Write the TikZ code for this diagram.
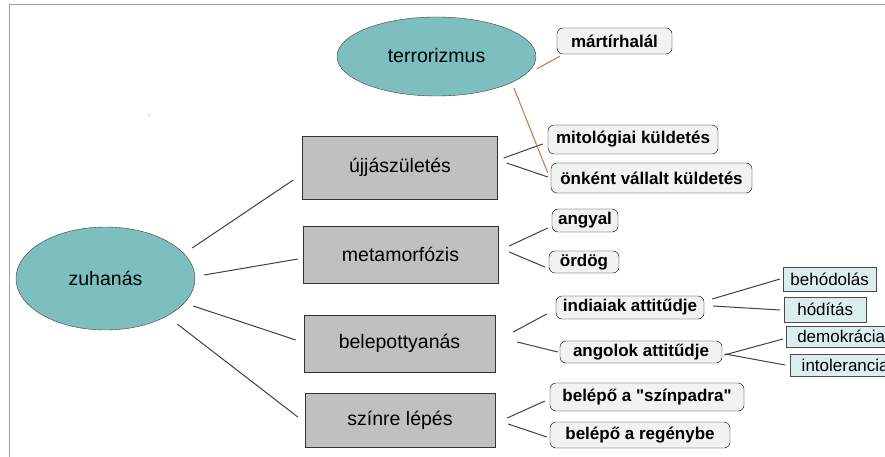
\documentclass[tikz,border=0pt]{standalone}
\usepackage{fontspec}
\setmainfont{Liberation Sans}[Ligatures=TeXOff]
\usetikzlibrary{shapes.geometric}
\definecolor{tealfill}{RGB}{125,190,190}
\definecolor{boxgray}{RGB}{192,192,192}
\definecolor{leafgray}{RGB}{242,242,242}
\definecolor{twigfill}{RGB}{220,237,237}
\definecolor{rustline}{RGB}{190,120,70}
\definecolor{framegray}{RGB}{160,160,160}
\newcommand{\bigfont}{\fontsize{19.5}{22}\selectfont}
\newcommand{\leaffont}{\fontsize{17}{20}\selectfont}

\begin{document}
\begin{tikzpicture}[x=1pt,y=-1pt]
\tikzstyle{blob} = [ellipse, draw=black!75, fill=tealfill, inner sep=0pt, font=\bigfont]
\tikzstyle{topic} = [rectangle, draw=black!80, fill=boxgray, minimum width=195pt, font=\bigfont]
\tikzstyle{leaf} = [rectangle, rounded corners=6pt, draw=black, fill=leafgray, inner xsep=3pt, inner ysep=1pt, minimum height=23pt, font=\leaffont\bfseries]
\tikzstyle{twig} = [rectangle, draw=black!70, fill=twigfill, inner sep=1pt, anchor=west, font=\leaffont]
\tikzset{link/.style={draw=black!75, line width=1pt}, rust/.style={draw=rustline, line width=1pt}}
\useasboundingbox (0,0) rectangle (885,457);

% frame of the slide
\draw[framegray, line width=1.5pt] (9.5,457) -- (9.5,4.5) -- (885,4.5);
\fill[black!60] (149,115) circle (0.7);

% main nodes
\node[blob, minimum width=179pt, minimum height=103pt] (zuh) at (105.5,278.5) {zuhanás};
\node[blob, minimum width=199pt, minimum height=79pt] (terror) at (436.5,56.5) {\raisebox{3pt}{terrorizmus}};

\node[topic, minimum height=63pt] (uj) at (400,167.5) {újjászületés};
\node[topic, minimum height=57pt] (meta) at (400.5,254.5) {metamorfózis};
\node[topic, minimum width=191pt, minimum height=57pt] (bele) at (399.5,343.5) {belepottyanás};
\node[topic, minimum width=190pt, minimum height=54pt] (szin) at (400,420) {színre lépés};

% rounded leaves
\node[leaf, minimum width=115pt, minimum height=26pt] (mart) at (614.5,41) {mártírhalál};
\node[leaf, minimum width=170pt, minimum height=29pt] (mit) at (633,139.5) {mitológiai küldetés};
\node[leaf, minimum width=201pt, minimum height=30pt] (onk) at (651.5,178) {önként vállalt küldetés};
\node[leaf, minimum width=66pt] (angyal) at (585,220.5) {angyal};
\node[leaf, minimum width=70pt, minimum height=22pt] (ordog) at (584,262) {ördög};
\node[leaf, minimum width=148pt] (ind) at (630,307.5) {indiaiak attitűdje};
\node[leaf, minimum width=162pt, minimum height=22pt] (ang) at (641,352) {angolok attitűdje};
\node[leaf, minimum width=194pt, minimum height=28pt] (bsz) at (647,397) {belépő a "színpadra"};
\node[leaf, minimum width=180pt, minimum height=26pt] (breg) at (640,435) {belépő a regénybe};

% boxes on the far right
\node[twig, minimum width=93pt, minimum height=24pt] (beh) at (783,279) {behódolás};
\node[twig, minimum width=82pt, minimum height=25pt] (hod) at (784,309.5) {hódítás};
\node[twig, minimum width=110pt, minimum height=21pt] (dem) at (786,336.5) {demokrácia};
\node[twig, minimum width=110pt, minimum height=22pt] (intol) at (790,365) {intolerancia};

% connectors
\draw[link] ([shift={(-3,-30.5)}]zuh.east) -- ([shift={(-9,12.5)}]uj.west);
\draw[link] ([shift={(9,-3.5)}]zuh.east) -- ([shift={(-5,4.5)}]meta.west);
\draw[link] ([shift={(-2,27.5)}]zuh.east) -- ([shift={(-8,-3.5)}]bele.west);
\draw[link] ([shift={(-18,45.5)}]zuh.east) -- ([shift={(-7,-3)}]szin.west);

\draw[link] ([shift={(6,-9.5)}]uj.east) -- ([shift={(-5,4.5)}]mit.west);
\draw[link] ([shift={(9,-4.5)}]uj.east) -- ([shift={(-3,-1)}]onk.west);
\draw[link] ([shift={(11,-8.5)}]meta.east) -- ([shift={(-4,7.5)}]angyal.west);
\draw[link] ([shift={(11,-2.5)}]meta.east) -- ([shift={(-4,5)}]ordog.west);
\draw[link] ([shift={(18,-11.5)}]bele.east) -- ([shift={(-9,6.5)}]ind.west);
\draw[link] ([shift={(22,-1.5)}]bele.east) -- ([shift={(-2,0)}]ang.west);
\draw[link] ([shift={(12,-2)}]szin.east) -- ([shift={(-5,4)}]bsz.west);
\draw[link] ([shift={(13,4)}]szin.east) -- ([shift={(-3,2)}]breg.west);

\draw[link] ([shift={(8,-8.5)}]ind.east) -- ([shift={(-3,0)}]beh.west);
\draw[link] ([shift={(9,-1.5)}]ind.east) -- ([shift={(-4,0.5)}]hod.west);
\draw[link] ([shift={(2,3)}]ang.east) -- ([shift={(-3,2.5)}]dem.west);
\draw[link] ([shift={(3,2)}]ang.east) -- ([shift={(-5,0)}]intol.west);

\draw[rust] ([shift={(0.5,12.5)}]terror.east) -- ([shift={(3,2)}]mart.south west);
\draw[rust] ([shift={(77.5,-8)}]terror.south) -- ([shift={(-3,-5)}]onk.west);
\end{tikzpicture}
\end{document}
